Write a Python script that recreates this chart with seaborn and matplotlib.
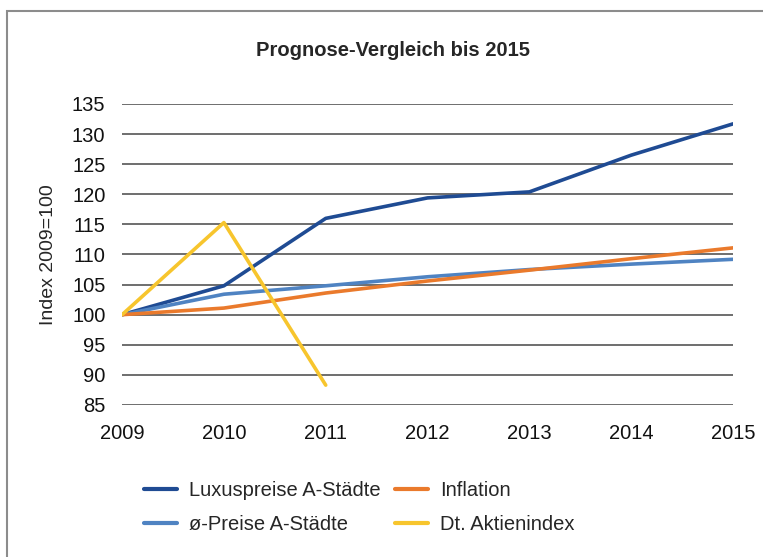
import matplotlib
matplotlib.use("Agg")
import matplotlib.pyplot as plt
import matplotlib.patches as patches
import seaborn as sns
import pandas as pd

# values (index 2009 = 100)
years = [2009, 2010, 2011, 2012, 2013, 2014, 2015]
luxus = [100, 104.8, 116.0, 119.4, 120.4, 126.5, 131.7]
avg_preise = [100, 103.4, 104.8, 106.3, 107.5, 108.4, 109.2]
inflation = [100, 101.1, 103.6, 105.6, 107.4, 109.3, 111.1]
aktien_years = [2009, 2010, 2011]
aktien = [100, 115.3, 88.3]

series_names = ["Luxuspreise A-Städte", "ø-Preise A-Städte", "Inflation", "Dt. Aktienindex"]
colors = ["#1f4b93", "#4f83c2", "#ea7a2c", "#f7c52d"]

frames = []
for name, xs, ys in [(series_names[0], years, luxus),
                     (series_names[1], years, avg_preise),
                     (series_names[2], years, inflation),
                     (series_names[3], aktien_years, aktien)]:
    frames.append(pd.DataFrame({"Jahr": xs, "Wert": ys, "Serie": name}))
df = pd.concat(frames, ignore_index=True)

sns.set_style("white")
plt.rcParams['font.family'] = ['Liberation Sans', 'DejaVu Sans']

fig = plt.figure(figsize=(7.63, 5.57), dpi=100)
ax = fig.add_axes([0.16, 0.2729, 0.8007, 0.5404])

sns.lineplot(data=df, x="Jahr", y="Wert", hue="Serie", hue_order=series_names,
             palette=dict(zip(series_names, colors)), linewidth=2.6, ax=ax,
             legend=False)

ax.set_xlim(2009, 2015)
ax.set_ylim(85, 135)
ax.set_yticks(range(85, 136, 5))
ax.set_xticks(years)
ax.yaxis.grid(True, color="#555555", linewidth=1.2)
ax.set_axisbelow(True)
for s in ax.spines.values():
    s.set_visible(False)
ax.tick_params(axis="both", length=0, labelsize=14.5, colors="#111111")
ax.tick_params(axis="x", pad=14)
ax.tick_params(axis="y", pad=12)
ax.set_xlabel("")
ax.set_ylabel("Index 2009=100", fontsize=14, labelpad=11)

fig.text(0.515, 0.91, "Prognose-Vergleich bis 2015", ha="center", va="center",
         fontsize=14.5, fontweight="bold")

handles = [plt.Line2D([], [], color=c, lw=3) for c in colors]
fig.legend(handles, series_names, ncol=2, loc="upper left",
           bbox_to_anchor=(0.165, 0.169), frameon=False, fontsize=14.5,
           handlelength=1.65, columnspacing=0.7, labelspacing=0.75, handletextpad=0.6)

# grey frame round the chart
fig.patches.append(patches.Rectangle((7 / 763, -0.1), 1.2, 1 - 11 / 557 + 0.1,
                                     transform=fig.transFigure, fill=False,
                                     edgecolor="#8c8c8c", linewidth=1.5))

fig.savefig("out.png", dpi=100)
